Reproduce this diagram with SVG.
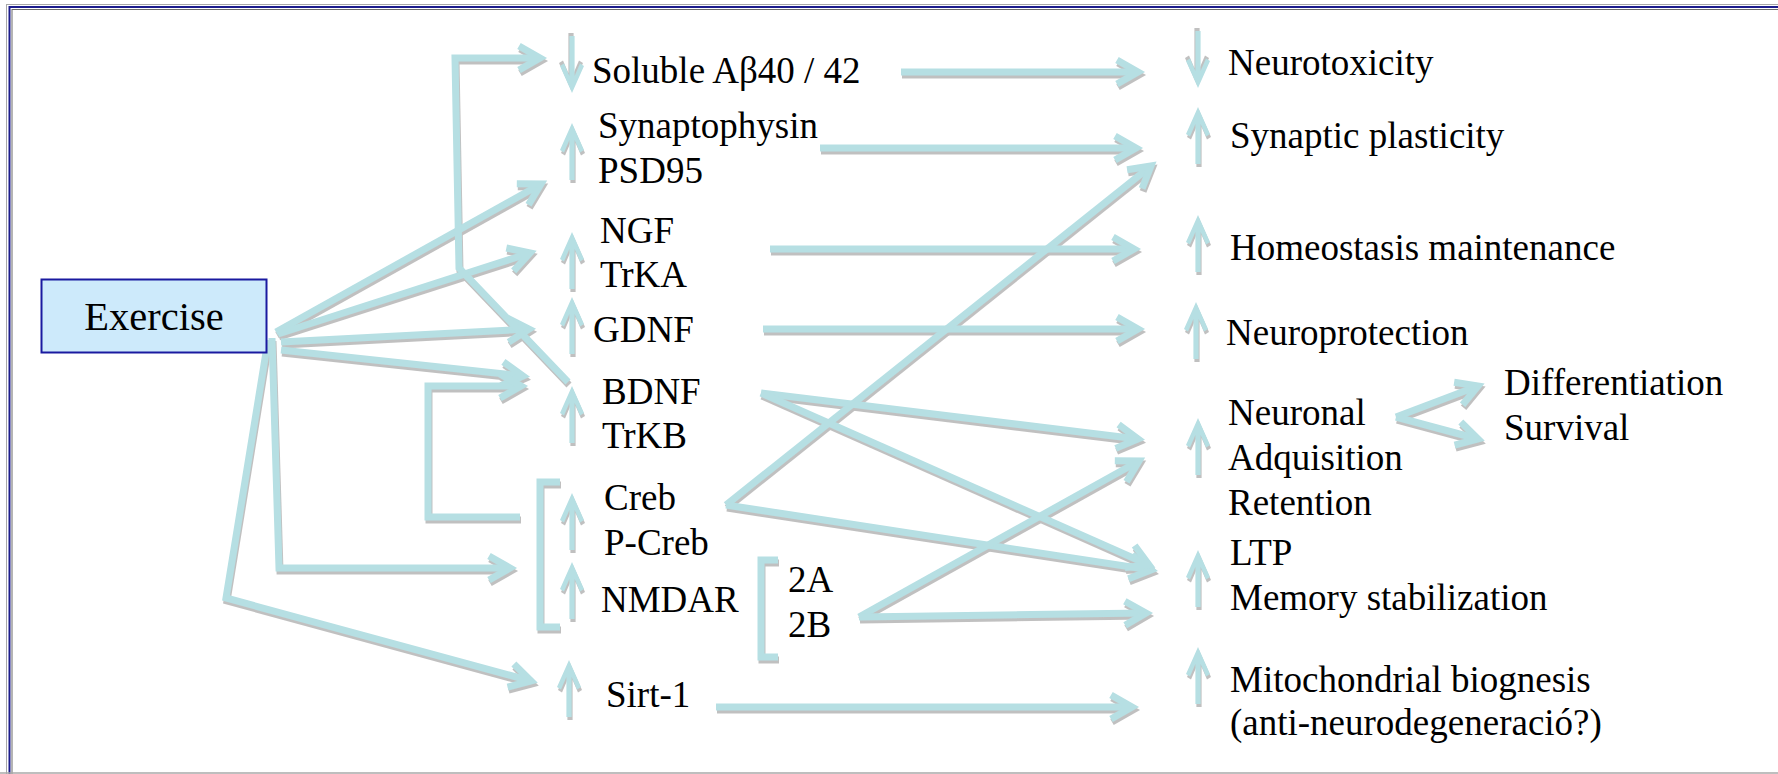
<svg xmlns="http://www.w3.org/2000/svg" xmlns:xlink="http://www.w3.org/1999/xlink" width="1778" height="774" viewBox="0 0 1778 774">
<style>
.conn path{fill:none;stroke:#b6dfe3;stroke-width:7;stroke-linejoin:miter}
.conn path.arr{marker-end:url(#ah)}
.sa{fill:#b6dfe3}
</style>
<defs>
<filter id="sh" x="-20%" y="-20%" width="140%" height="140%">
<feDropShadow dx="1" dy="3" stdDeviation="0.5" flood-color="#b9b9b9" flood-opacity="0.9"/>
</filter>
<marker id="ah" markerUnits="userSpaceOnUse" markerWidth="44" markerHeight="44" refX="30" refY="20" orient="auto" overflow="visible">
<path d="M9 8 L30 20 L9 32" fill="none" stroke="#b6dfe3" stroke-width="7" stroke-linejoin="miter"/>
</marker>
<path id="up" d="M0 0 L12 27 L8 29.5 L2.6 17 L2.6 57 L-2.6 57 L-2.6 17 L-8 29.5 L-12 27 Z"/>
</defs>
<rect width="1778" height="774" fill="#fff"/>
<g id="frame" fill="none">
<rect x="6.5" y="4.5" width="1800" height="800" stroke="#a8a8a8" stroke-width="1"/>
<rect x="9.5" y="7" width="1800" height="800" stroke="#1c1c8c" stroke-width="2"/>
<rect x="12" y="9.5" width="1800" height="800" stroke="#6a6a6a" stroke-width="1"/>
<line x1="0" y1="773" x2="1778" y2="773" stroke="#a8a8a8" stroke-width="1.5"/>
</g>
<g id="connectors" class="conn" filter="url(#sh)">
<path class="arr" d="M276 332 L541 184"/>
<path class="arr" d="M278 334 L530 253"/>
<path class="arr" d="M281 342 L529 329"/>
<path class="arr" d="M281 350 L523 376"/>
<path class="arr" d="M568 382 L459 268 L455 58 L540 58"/>
<path class="arr" d="M272 338 L279 568 L510 568"/>
<path class="arr" d="M268 340 L226 598 L531 681"/>
<path class="arr" d="M520 517 L428 517 L428 386 L521 386"/>
<path d="M560 482 L540 482 L540 627 L560 627"/>
<path d="M778 560 L761 560 L761 657 L778 657"/>
<path class="arr" d="M901 72 L1138 72"/>
<path class="arr" d="M820 148 L1136 148"/>
<path class="arr" d="M770 249 L1134 249"/>
<path class="arr" d="M763 329 L1138 329"/>
<path class="arr" d="M726 505 L1151 166"/>
<path class="arr" d="M726 505 L1151 570"/>
<path class="arr" d="M761 393 L1138 439"/>
<path class="arr" d="M761 393 L1149 565"/>
<path class="arr" d="M859 617 L1139 461"/>
<path class="arr" d="M859 617 L1146 613"/>
<path class="arr" d="M716 707 L1132 707"/>
<path class="arr" d="M1396 417 L1478 386"/>
<path class="arr" d="M1396 417 L1478 439"/>
</g>
<g font-family="'Liberation Serif', 'Times New Roman', serif" font-size="37" fill="#000">
<g id="exercise">
<rect x="41.5" y="279.5" width="225" height="73" fill="#cdeafb" stroke="#1a1aa0" stroke-width="2"/>
<text x="154" y="330" text-anchor="middle" font-size="40.5">Exercise</text>
</g>
<g id="soluble">
<use href="#up" class="sa" filter="url(#sh)" transform="translate(572,93) rotate(180)"/>
<text x="592" y="83">Soluble Aβ40 / 42</text>
</g>
<g id="synaptophysin">
<use href="#up" class="sa" filter="url(#sh)" transform="translate(572,123)"/>
<text x="598" y="138">Synaptophysin</text>
<text x="598" y="183">PSD95</text>
</g>
<g id="ngf">
<use href="#up" class="sa" filter="url(#sh)" transform="translate(572,232)"/>
<text x="600" y="243">NGF</text>
<text x="600" y="287">TrKA</text>
</g>
<g id="gdnf">
<use href="#up" class="sa" filter="url(#sh)" transform="translate(572,297)"/>
<text x="593" y="342">GDNF</text>
</g>
<g id="bdnf">
<use href="#up" class="sa" filter="url(#sh)" transform="translate(572,386)"/>
<text x="602" y="404">BDNF</text>
<text x="602" y="448">TrKB</text>
</g>
<g id="creb">
<use href="#up" class="sa" filter="url(#sh)" transform="translate(572,493)"/>
<text x="604" y="510">Creb</text>
<text x="604" y="555">P-Creb</text>
</g>
<g id="nmdar">
<use href="#up" class="sa" filter="url(#sh)" transform="translate(572,562)"/>
<text x="601" y="612">NMDAR</text>
<text x="788" y="592">2A</text>
<text x="788" y="637">2B</text>
</g>
<g id="sirt1">
<use href="#up" class="sa" filter="url(#sh)" transform="translate(569,660)"/>
<text x="606" y="707">Sirt-1</text>
</g>
<g id="neurotoxicity">
<use href="#up" class="sa" filter="url(#sh)" transform="translate(1198,88) rotate(180)"/>
<text x="1228" y="75">Neurotoxicity</text>
</g>
<g id="synaptic-plasticity">
<use href="#up" class="sa" filter="url(#sh)" transform="translate(1198,107)"/>
<text x="1230" y="148">Synaptic plasticity</text>
</g>
<g id="homeostasis">
<use href="#up" class="sa" filter="url(#sh)" transform="translate(1198,215)"/>
<text x="1230" y="260">Homeostasis maintenance</text>
</g>
<g id="neuroprotection">
<use href="#up" class="sa" filter="url(#sh)" transform="translate(1196,302)"/>
<text x="1226" y="345">Neuroprotection</text>
</g>
<g id="neuronal">
<use href="#up" class="sa" filter="url(#sh)" transform="translate(1198,418)"/>
<text x="1228" y="425">Neuronal</text>
<text x="1228" y="470">Adquisition</text>
<text x="1228" y="515">Retention</text>
</g>
<g id="differentiation">
<text x="1504" y="395">Differentiation</text>
<text x="1504" y="440">Survival</text>
</g>
<g id="ltp">
<use href="#up" class="sa" filter="url(#sh)" transform="translate(1198,550)"/>
<text x="1230" y="565">LTP</text>
<text x="1230" y="610">Memory stabilization</text>
</g>
<g id="mitochondrial">
<use href="#up" class="sa" filter="url(#sh)" transform="translate(1198,647)"/>
<text x="1230" y="692">Mitochondrial biognesis</text>
<text x="1230" y="735">(anti-neurodegeneració?)</text>
</g>
</g>
</svg>
